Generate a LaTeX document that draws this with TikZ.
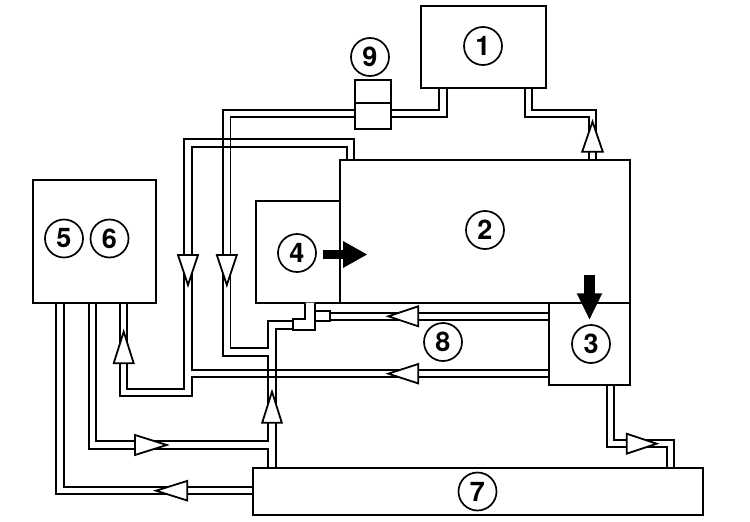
\documentclass[tikz,border=0pt]{standalone}
\usepackage{fontspec}
\setmainfont{TeX Gyre Heros}
\begin{document}
\begin{tikzpicture}[x=1pt,y=-1pt,
  box/.style={draw,fill=white,line width=2pt,inner sep=0pt,outer sep=0pt},
  num/.style={circle,draw,line width=1.7pt,minimum size=38pt,inner sep=0pt,font=\fontsize{27}{27}\selectfont\bfseries},
  tri/.style={draw,fill=white,line width=1.8pt,line join=miter},
  fitting/.style={draw,fill=white,line width=1.8pt},
  cross/.style={draw,line width=1.9pt}]
\useasboundingbox (0,0) rectangle (750,522);

% boxes as nodes (anchors only; drawn later over the pipes)
\path
  node[minimum width=125pt,minimum height=82pt,inner sep=0pt,outer sep=0pt] (b1) at (483.5,47) {}
  node[minimum width=36pt,minimum height=49pt,inner sep=0pt,outer sep=0pt] (b9) at (373,104.5) {}
  node[minimum width=290.5pt,minimum height=142.5pt,inner sep=0pt,outer sep=0pt] (b2) at (484.75,231.25) {}
  node[minimum width=83.5pt,minimum height=101.5pt,inner sep=0pt,outer sep=0pt] (b4) at (297.75,251.75) {}
  node[minimum width=81pt,minimum height=82.5pt,inner sep=0pt,outer sep=0pt] (b3) at (589.5,343.75) {}
  node[minimum width=123.5pt,minimum height=123pt,inner sep=0pt,outer sep=0pt] (b56) at (94.25,241.5) {}
  node[minimum width=450pt,minimum height=47pt,inner sep=0pt,outer sep=0pt] (b7) at (478,491.5) {};

% pipes: black pass then white pass
\foreach \pw/\pc in {9.2pt/black,5.4pt/white}{
  \draw[line width=\pw,draw=\pc]
    (443,0 |- b1.south) |- (226.8,113.7) |- (272,352);
  \draw[line width=\pw,draw=\pc]
    (528.3,0 |- b1.south) |- (592.5,113.7) -- (592.5,0 |- b2.north);
  \draw[line width=\pw,draw=\pc]
    (350.3,0 |- b2.north) |- (188,143) |- (123.7,392.2) -- (123.7,0 |- b56.south);
  \draw[line width=\pw,draw=\pc]
    (b3.west |- 0,373.7) -- (188,373.7);
  \draw[line width=\pw,draw=\pc]
    (b3.west |- 0,316.3) -- (322,316.3);
  \draw[line width=\pw,draw=\pc]
    (292.7,325) -| (272,0 |- b7.north);
  \draw[line width=\pw,draw=\pc]
    (92.7,0 |- b56.south) |- (272,445);
  \draw[line width=\pw,draw=\pc]
    (60,0 |- b56.south) |- (b7.west |- 0,490.7);
  \draw[line width=\pw,draw=\pc]
    (610.3,0 |- b3.south) |- (670.3,443.7) -- (670.3,0 |- b7.north);
}
% crossings
\draw[cross] (223.15,139.35) rectangle (230.45,146.65);
\draw[cross] (268.35,370.05) rectangle (275.65,377.35);

% boxes
\node[box,minimum width=125pt,minimum height=82pt] at (b1) {};
\node[box,minimum width=36pt,minimum height=49pt] at (b9) {};
\draw[line width=1.6pt] (b9.west |- 0,103) -- (b9.east |- 0,103);
\node[box,minimum width=290.5pt,minimum height=142.5pt] at (b2) {};
\node[box,minimum width=83.5pt,minimum height=101.5pt] at (b4) {};
\node[box,minimum width=81pt,minimum height=82.5pt] at (b3) {};
\node[box,minimum width=123.5pt,minimum height=123pt] at (b56) {};
\node[box,minimum width=450pt,minimum height=47pt] at (b7) {};

% T fitting below box 4
\draw[fitting] (305,302.5) -- (305,319.3) -- (292.7,319.3) -- (292.7,330) -- (315,330) -- (315,302.5);
\draw[fitting] (315,311.3) rectangle (330,321.3);

% flow triangles
\draw[tri] (592.5,121.7) -- (602.8,151.7) -- (582.2,151.7) -- cycle;
\draw[tri] (188,285) -- (178,255) -- (198,255) -- cycle;
\draw[tri] (226.8,285) -- (216.8,255) -- (236.8,255) -- cycle;
\draw[tri] (123.7,331.7) -- (133.7,363.3) -- (113.7,363.3) -- cycle;
\draw[tri] (388.3,316.3) -- (418.3,306.3) -- (418.3,326.3) -- cycle;
\draw[tri] (388.3,373.7) -- (418.3,364) -- (418.3,383.4) -- cycle;
\draw[tri] (272,391.7) -- (281.8,422.7) -- (262.2,422.7) -- cycle;
\draw[tri] (166.7,445) -- (135,435) -- (135,455) -- cycle;
\draw[tri] (156,490.7) -- (187.3,480.9) -- (187.3,500.5) -- cycle;
\draw[tri] (656.7,443.7) -- (626.7,433.7) -- (626.7,453.7) -- cycle;

% solid arrows
\fill (323,250) rectangle (343,259);
\fill (343,241) -- (367,254.5) -- (343,268) -- cycle;
\fill (584,275) rectangle (595,293.5);
\fill (576.7,293.3) -- (589.5,319.3) -- (602.3,293.3) -- cycle;

% labels
\node[num] (n1) at (483,46) {1};
\node[num] (n9) at (370,57) {9};
\node[num] (n2) at (485,230) {2};
\node[num] (n4) at (297,253) {4};
\node[num] (n3) at (591,344) {3};
\node[num] (n8) at (443,342) {8};
\node[num] (n5) at (64,238.5) {5};
\node[num] (n6) at (109.5,238.5) {6};
\node[num] (n7) at (477.5,491.5) {7};
\end{tikzpicture}
\end{document}
